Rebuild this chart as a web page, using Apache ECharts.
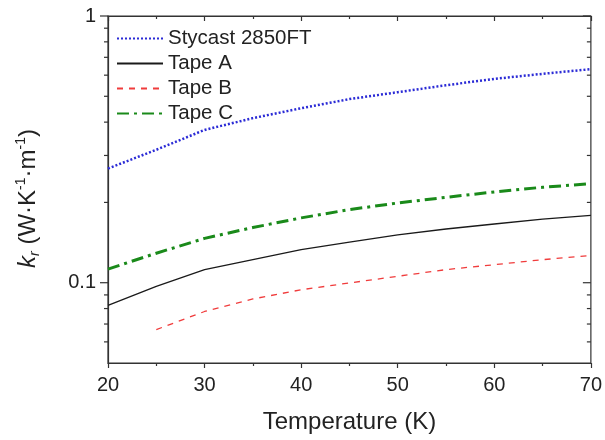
<!DOCTYPE html>
<html>
<head>
<meta charset="utf-8">
<script src="https://cdn.jsdelivr.net/npm/echarts@6/dist/echarts.min.js"></script>
<style>
html, body { margin: 0; padding: 0; background: #fff; }
#chart { width: 605px; height: 440px; }
</style>
</head>
<body>
<div id="chart"></div>
<script>
// temperature in K
var temps = [20, 25, 30, 35, 40, 45, 50, 55, 60, 65, 70];
var stycast = [0.268, 0.315, 0.374, 0.414, 0.451, 0.488, 0.518, 0.550, 0.581, 0.607, 0.632];
var tapeA = [0.0822, 0.0969, 0.112, 0.122, 0.133, 0.142, 0.151, 0.159, 0.166, 0.173, 0.179];
var tapeB = [null, 0.0667, 0.078, 0.0869, 0.0941, 0.0998, 0.1057, 0.112, 0.1168, 0.122, 0.1265];
var tapeC = [0.1125, 0.129, 0.1466, 0.161, 0.175, 0.188, 0.199, 0.209, 0.219, 0.228, 0.235];
var seriesNames = ['Stycast 2850FT', 'Tape A', 'Tape B', 'Tape C'];
var yMajorTicks = [0.1, 1];
var yTickLabels = ['0.1', '1'];
var yMinorTicks = [0.06, 0.07, 0.08, 0.09, 0.2, 0.3, 0.4, 0.5, 0.6, 0.7, 0.8, 0.9];

function pairs(vals) {
    return temps.map(function (t, i) { return [t, vals[i]]; });
}

var axisColor = '#333';
var font = 'Liberation Sans, Arial, sans-serif';

var tickData = yMajorTicks.map(function (v, i) { return [20, v, 1, i]; })
    .concat(yMinorTicks.map(function (v) { return [20, v, 0, -1]; }));

var chart = echarts.init(document.getElementById('chart'));
chart.setOption({
    animation: false,
    grid: { left: 108, right: 13, top: 16, bottom: 77, show: true, borderColor: axisColor, borderWidth: 1.2 },
    legend: {
        data: seriesNames,
        orient: 'vertical',
        left: 111,
        top: 23,
        itemWidth: 46,
        itemHeight: 14,
        itemGap: 4,
        itemStyle: { color: 'transparent', borderWidth: 0, opacity: 0 },
        textStyle: { fontFamily: font, fontSize: 20.5, color: '#222', padding: [0, 0, 0, 0] }
    },
    xAxis: [{
        type: 'value', min: 20, max: 70, interval: 10,
        name: 'Temperature (K)', nameLocation: 'middle', nameGap: 47,
        nameTextStyle: { fontFamily: font, fontSize: 24, color: '#222' },
        axisLine: { lineStyle: { color: axisColor, width: 1.2 } },
        axisTick: { length: 5, lineStyle: { color: axisColor, width: 1.2 } },
        minorTick: { show: true, splitNumber: 2, length: 3, lineStyle: { color: axisColor, width: 1.2 } },
        axisLabel: { fontFamily: font, fontSize: 20, color: '#222', margin: 12 },
        splitLine: { show: false }
    }, {
        type: 'value', min: 20, max: 70, interval: 10, position: 'top',
        axisLine: { lineStyle: { color: axisColor, width: 1.2 } },
        axisTick: { inside: true, length: 5, lineStyle: { color: axisColor, width: 1.2 } },
        minorTick: { show: true, splitNumber: 2, length: 3, lineStyle: { color: axisColor, width: 1.2 } },
        axisLabel: { show: false },
        splitLine: { show: false }
    }],
    yAxis: {
        type: 'log', logBase: 10, min: 0.05, max: 1,
        name: '{k|k}{sub|r}{t| (W·K}{sup|-1}{t|·m}{sup|-1}{t|)}',
        nameLocation: 'middle', nameGap: 66, nameRotate: 90,
        nameTextStyle: {
            fontFamily: font, fontSize: 24, color: '#222', padding: [0, 18, 0, 0],
            rich: {
                k: { fontFamily: font, fontSize: 24, fontStyle: 'italic', color: '#222', lineHeight: 28, verticalAlign: 'middle' },
                sub: { fontFamily: font, fontSize: 14, fontStyle: 'italic', color: '#222', verticalAlign: 'bottom', lineHeight: 28 },
                t: { fontFamily: font, fontSize: 24, color: '#222', lineHeight: 28, verticalAlign: 'middle' },
                sup: { fontFamily: font, fontSize: 14, color: '#222', verticalAlign: 'top', lineHeight: 28 }
            }
        },
        axisLine: { lineStyle: { color: axisColor, width: 1.2 } },
        axisTick: { show: false },
        minorTick: { show: false },
        splitLine: { show: false },
        axisLabel: { show: false }
    },
    series: [{
        name: 'Stycast 2850FT', type: 'line', symbol: 'none', data: pairs(stycast),
        lineStyle: { color: '#2b2bd6', width: 2.5, type: [2, 2] },
        itemStyle: { color: '#2b2bd6' }
    }, {
        name: 'Tape A', type: 'line', symbol: 'none', data: pairs(tapeA),
        lineStyle: { color: '#1a1a1a', width: 1.3, type: 'solid' },
        itemStyle: { color: '#1a1a1a' }
    }, {
        name: 'Tape B', type: 'line', symbol: 'none', data: pairs(tapeB),
        lineStyle: { color: '#f03c3c', width: 1.3, type: [6, 6] },
        itemStyle: { color: '#f03c3c' }
    }, {
        name: 'Tape C', type: 'line', symbol: 'none', data: pairs(tapeC),
        lineStyle: { color: '#1a8a1a', width: 3, type: [12, 5, 3, 5] },
        itemStyle: { color: '#1a8a1a' }
    }, {
        // log-axis ticks and labels: left outward, right inward
        type: 'custom', silent: true, clip: false, data: tickData,
        renderItem: function (params, api) {
            var p = api.coord([20, api.value(1)]);
            var q = api.coord([70, api.value(1)]);
            var len = api.value(2) ? 8 : 4;
            var st = { stroke: axisColor, lineWidth: 1.2 };
            var children = [
                { type: 'line', shape: { x1: p[0] - len, y1: p[1], x2: p[0], y2: p[1] }, style: st },
                { type: 'line', shape: { x1: q[0] - len, y1: q[1], x2: q[0], y2: q[1] }, style: st }
            ];
            var li = api.value(3);
            if (li >= 0) {
                children.push({
                    type: 'text', x: p[0] - 12, y: p[1],
                    style: { text: yTickLabels[li], fontFamily: font, fontSize: 20, fill: '#222', align: 'right', verticalAlign: 'middle' }
                });
            }
            return { type: 'group', children: children };
        }
    }]
});
</script>
</body>
</html>
